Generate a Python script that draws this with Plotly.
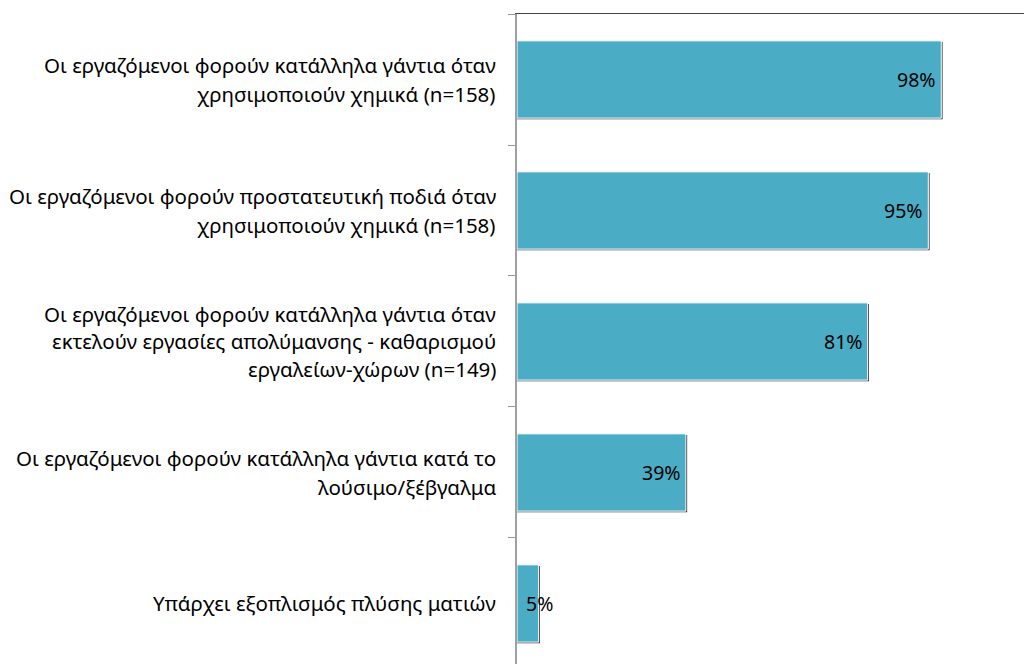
import plotly.graph_objects as go

labels = [
    ["Οι εργαζόμενοι φορούν κατάλληλα γάντια όταν", "χρησιμοποιούν χημικά (n=158)"],
    ["Οι εργαζόμενοι φορούν προστατευτική ποδιά όταν", "χρησιμοποιούν χημικά (n=158)"],
    ["Οι εργαζόμενοι φορούν κατάλληλα γάντια όταν", "εκτελούν εργασίες απολύμανσης - καθαρισμού", "εργαλείων-χώρων (n=149)"],
    ["Οι εργαζόμενοι φορούν κατάλληλα γάντια κατά το", "λούσιμο/ξέβγαλμα"],
    ["Υπάρχει εξοπλισμός πλύσης ματιών"],
]
values = [98, 95, 81, 39, 5]
value_text = ["98%", "95%", "81%", "39%", "5%"]

FONT = "Noto Sans"
BAR = "#4BACC6"
ypos = list(range(len(values)))

fig = go.Figure()
# shadow
fig.add_trace(go.Bar(
    x=[v + 0.3 for v in values], y=ypos, orientation="h",
    width=0.59, offset=-0.287, marker=dict(color="#333", line=dict(width=0)),
    hoverinfo="skip", showlegend=False))
fig.add_trace(go.Bar(
    x=values, y=ypos, orientation="h",
    width=0.59, offset=-0.295, marker=dict(color=BAR, line=dict(color="white", width=1)),
    showlegend=False))

annotations = []
for i, lines in enumerate(labels):
    n = len(lines)
    spacing = 29 if n < 3 else 27.5
    for j, line in enumerate(lines):
        annotations.append(dict(
            xref="paper", yref="y", x=0, y=i, xanchor="right", yanchor="middle",
            xshift=-19, yshift=-(j - (n - 1) / 2) * spacing, text=line, showarrow=False,
            font=dict(family=FONT, size=20.5, color="#000")))
for i, (v, t) in enumerate(zip(values, value_text)):
    if v < 10:
        annotations.append(dict(xref="x", yref="y", x=0, y=i, xanchor="left", xshift=7,
                                text=t, showarrow=False, font=dict(family=FONT, size=19.5, color="#000")))
    else:
        annotations.append(dict(xref="x", yref="y", x=v, y=i, xanchor="right", xshift=-3,
                                text=t, showarrow=False, font=dict(family=FONT, size=19.5, color="#000")))

fig.update_layout(
    width=1024, height=664, margin=dict(l=517, r=0, t=14, b=0),
    paper_bgcolor="white", plot_bgcolor="white", barmode="overlay",
    annotations=annotations,
    xaxis=dict(range=[0, 117.1], side="top", showline=True, linecolor="#444", linewidth=1,
               showticklabels=False, ticks="", showgrid=False, zeroline=False, fixedrange=True),
    yaxis=dict(range=[4.462, -0.5], tickvals=[-0.5, 0.5, 1.5, 2.5, 3.5, 4.5], ticks="outside",
               ticklen=7, tickwidth=1, tickcolor="#999", showticklabels=False, showline=True,
               linecolor="#a0a0a0", linewidth=2, showgrid=False, zeroline=False, fixedrange=True),
)
fig.write_html("out.html", config={"displayModeBar": False},
               post_script="document.body.style.margin='0';")
